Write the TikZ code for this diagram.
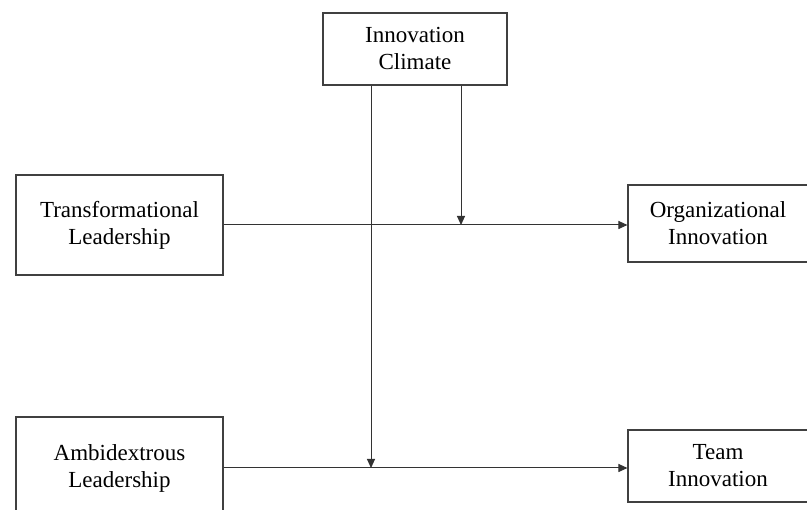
\documentclass[tikz,border=0pt]{standalone}
\usepackage{fontspec}
\setmainfont{Liberation Serif}
\usetikzlibrary{arrows.meta,positioning,calc}

\tikzset{
  varbox/.style={draw=black!75, line width=1.1pt, align=center, inner sep=0pt,
    font=\fontsize{23}{27}\selectfont},
  arr/.style={draw=black!80, line width=1pt, -{Triangle[length=9pt,width=8pt]}}
}

\begin{document}
\begin{tikzpicture}[x=1pt,y=-1pt]
		% Canvas
		\useasboundingbox (0,0) rectangle (807,510);
		\clip (0,0) rectangle (807,510);

		% Boxes
		\node[varbox, minimum width=184pt, minimum height=72pt] (clim) at (415,49) {Innovation\\Climate};
		\node[varbox, minimum width=207pt, minimum height=100pt] (trans) at (119.5,225) {Transformational\\Leadership};
		\node[varbox, minimum width=180pt, minimum height=77pt] (org) at (718,223.5) {Organizational\\Innovation};
		\node[varbox, minimum width=207pt, minimum height=102pt] (ambi) at (119.5,468) {Ambidextrous\\Leadership};
		\node[varbox, minimum width=180pt, minimum height=72pt] (team) at (718,466) {Team\\Innovation};

		% Direct paths
		\draw[arr] (trans.east) -- (trans.east -| org.west);
		\draw[arr] (ambi.east) -- (ambi.east -| team.west);

		% Moderation by climate
		\draw[arr] ([xshift=-44pt]clim.south) -- ([xshift=-44pt]clim.south |- ambi.east);
		\draw[arr] ([xshift=46pt]clim.south) -- ([xshift=46pt]clim.south |- trans.east);
	\end{tikzpicture}
\end{document}
